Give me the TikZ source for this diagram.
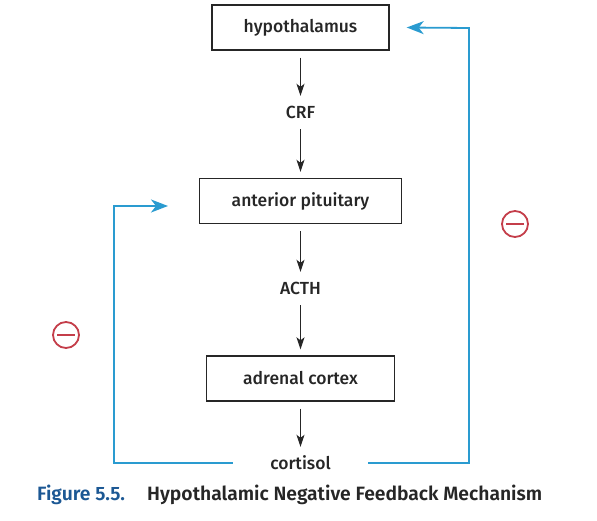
\documentclass[tikz,border=0pt]{standalone}
\usepackage{fontspec}
\setmainfont{Fira Sans}[UprightFont=* Medium, BoldFont=* SemiBold]
\usetikzlibrary{arrows.meta}
\definecolor{fbblue}{RGB}{42,155,208}
\definecolor{minred}{RGB}{196,62,74}
\definecolor{capblue}{RGB}{28,88,148}
\definecolor{ink}{RGB}{38,38,38}
\tikzset{
  organ/.style={draw=ink,line width=1.4pt,minimum height=45pt,text=ink,font=\fontsize{17.5}{20}\selectfont},
  hormone/.style={text=ink,inner sep=0pt,minimum height=20pt,font=\fontsize{17.5}{20}\selectfont},
  flow/.style={draw=ink,line width=1.2pt,shorten <=7pt,shorten >=6pt,-{Stealth[length=12pt,width=8pt,inset=3pt]}},
  fb/.style={draw=fbblue,line width=1.8pt,-{Stealth[length=17pt,width=13pt,inset=5pt]}},
  minus/.style={circle,draw=minred,line width=1.8pt,minimum size=26pt,inner sep=0pt,
    path picture={\draw[minred,line width=2.2pt] ([xshift=-9pt]path picture bounding box.center) -- ([xshift=9pt]path picture bounding box.center);}},
  capfont/.style={font=\fontsize{19.3}{22}\selectfont\bfseries,inner sep=0pt}
}
\begin{document}
\begin{tikzpicture}[x=1pt,y=-1pt]
\useasboundingbox (0,0) rectangle (597,521);

\node[organ,minimum width=177pt] (hyp) at (300.5,27.5) {hypothalamus};
\node[hormone] (crf) at (300.5,112) {CRF};
\node[organ,minimum width=202pt] (pit) at (300.5,201) {anterior pituitary};
\node[hormone] (acth) at (300.5,288) {ACTH};
\node[organ,minimum width=188pt] (adr) at (300.5,378.5) {adrenal cortex};
\node[hormone,minimum width=135pt] (cort) at (300.5,463) {cortisol};

\draw[flow] (hyp) -- (crf);
\draw[flow] (crf) -- (pit);
\draw[flow] (pit) -- (acth);
\draw[flow] (acth) -- (adr);
\draw[flow] (adr) -- (cort);

\coordinate (rtop) at (469,28);
\coordinate (ltop) at (114,206);
\coordinate (ltip) at (168,206);
\draw[fb] (cort.east) -| (rtop) -- ([xshift=17pt]hyp.east);
\draw[fb] (cort.west) -| (ltop) -- (ltip);

\node[minus] (mr) at (515,224) {};
\node[minus] (ml) at (66,335) {};

\node[capfont,text=capblue,anchor=base west] (capnum) at (37,500) {Figure 5.5.};
\node[capfont,text=ink,anchor=base west] (captxt) at (147,500) {Hypothalamic Negative Feedback Mechanism};
\end{tikzpicture}
\end{document}
